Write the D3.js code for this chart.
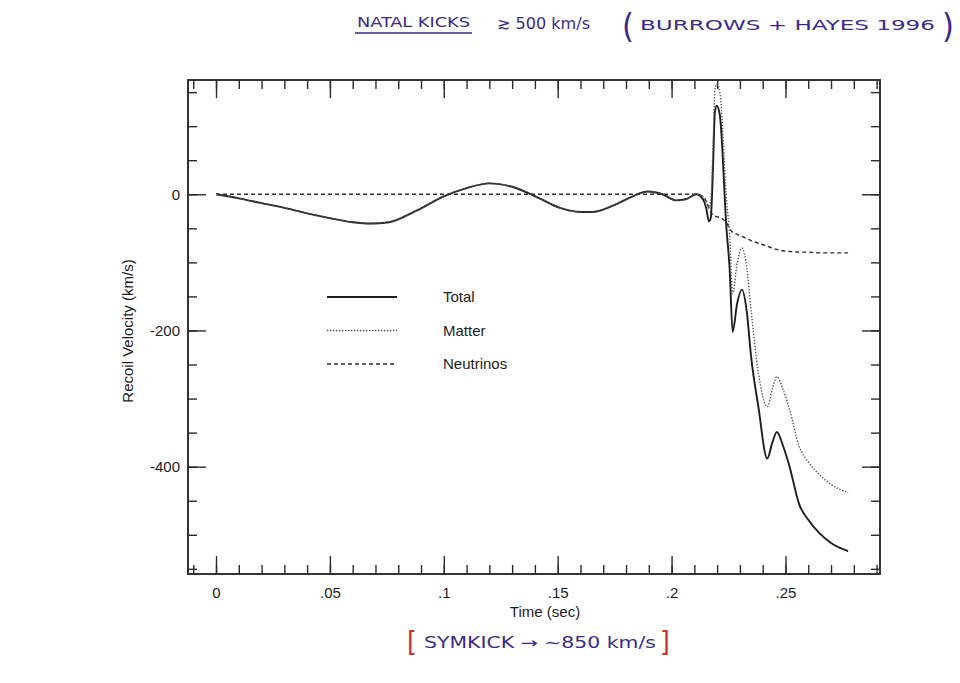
<!DOCTYPE html>
<html>
<head>
<meta charset="utf-8">
<script src="https://cdn.jsdelivr.net/npm/d3@7"></script>
<style>
  body { margin: 0; background: #fff; }
  svg { display: block; }
</style>
</head>
<body>
<script>
// time samples (sec)
const times = [0, 0.01, 0.02, 0.03, 0.04, 0.05, 0.06, 0.068, 0.076, 0.088,
  0.1, 0.11, 0.12, 0.13, 0.142, 0.151, 0.16, 0.165, 0.174, 0.183,
  0.1895, 0.196, 0.202, 0.2065, 0.2108, 0.2137, 0.2152, 0.2164, 0.2172, 0.2182,
  0.219, 0.2198, 0.2212, 0.2241, 0.2255, 0.2268, 0.2288, 0.2309, 0.233, 0.2349,
  0.2381, 0.242, 0.2442, 0.2462, 0.249, 0.2518, 0.256, 0.26, 0.265, 0.27, 0.2775];

// recoil velocity (km/s)
const total = [0, -6, -13, -20, -28, -35, -41, -43, -41, -24,
  -3, 9, 16, 11, -6, -20, -26, -26, -17, -3,
  4, 0, -9, -7, 0, -7, -20, -40, -35, 40,
  120, 130, 116, -50, -110, -202, -160, -140, -172, -238,
  -312, -388, -365, -349, -370, -400, -455, -478, -498, -512, -524];

const matter = [0, -6, -13, -20, -28, -35, -41, -43, -41, -24,
  -3, 9, 16, 11, -6, -20, -26, -26, -17, -3,
  4, 0, -9, -7, 0, -4, -10, -20, -9, 70,
  152, 162, 150, -8, -60, -146, -101, -79, -107, -170,
  -262, -312, -286, -268, -287, -316, -370, -393, -412, -426, -438];

const neutrinos = [0, 0, 0, 0, 0, 0, 0, 0, 0, 0,
  0, 0, 0, 0, 0, 0, 0, 0, 0, 0,
  0, 0, 0, 0, 0, -3, -10, -20, -26, -30,
  -32, -33, -34, -42, -50, -56, -59, -62, -65, -68,
  -72, -76, -79, -81, -83, -84, -85, -85, -86, -86, -86];

const seriesNames = ['Total', 'Matter', 'Neutrinos'];

// axis ticks
const xMajorTicks = [0, 0.05, 0.1, 0.15, 0.2, 0.25];
const xTickLabels = ['0', '.05', '.1', '.15', '.2', '.25'];
const yMajorTicks = [0, -200, -400];
const yTickLabels = ['0', '-200', '-400'];

// canvas and plot frame
const width = 960, height = 683;
const frame = {left: 188, right: 880, top: 80, bottom: 574};

const svg = d3.select('body')
  .append('svg')
  .attr('width', width)
  .attr('height', height)
  .style('background', '#fff');

// scales
const xScale = d3.scaleLinear()
  .domain([-0.0123, 0.2915])
  .range([frame.left, frame.right]);

const yScale = d3.scaleLinear()
  .domain([-557.6, 167.8])
  .range([frame.bottom, frame.top]);

// minor tick positions every .01 s and every 50 km/s
const xMinorTicks = d3.range(-1, 30).map(i => i / 100).filter(v => v <= 0.2915);
const yMinorTicks = d3.range(-11, 4).map(i => i * 50);

const axisFont = 'Liberation Sans, Arial, Helvetica, sans-serif';
const inkColor = '#2a2a2a';

// ticks on all four sides, pointing in
function drawAxis(axis, transform) {
  const g = svg.append('g')
    .attr('transform', transform)
    .call(axis);
  g.select('.domain').remove();
  g.selectAll('.tick line').attr('stroke', inkColor).attr('stroke-width', 1.4);
  g.selectAll('text')
    .style('font-family', axisFont)
    .style('font-size', '15px')
    .attr('fill', '#1c1c1c');
  return g;
}

drawAxis(d3.axisBottom(xScale).tickValues(xMinorTicks).tickSize(-9).tickFormat(''),
  `translate(0,${frame.bottom})`);
drawAxis(d3.axisBottom(xScale).tickValues(xMajorTicks).tickSize(-18).tickPadding(13)
  .tickFormat((d, i) => xTickLabels[i]), `translate(0,${frame.bottom})`);
drawAxis(d3.axisTop(xScale).tickValues(xMinorTicks).tickSize(-9).tickFormat(''),
  `translate(0,${frame.top})`);
drawAxis(d3.axisTop(xScale).tickValues(xMajorTicks).tickSize(-18).tickFormat(''),
  `translate(0,${frame.top})`);

drawAxis(d3.axisLeft(yScale).tickValues(yMinorTicks).tickSize(-9).tickFormat(''),
  `translate(${frame.left},0)`);
drawAxis(d3.axisLeft(yScale).tickValues(yMajorTicks).tickSize(-18).tickPadding(8)
  .tickFormat((d, i) => yTickLabels[i]), `translate(${frame.left},0)`);
drawAxis(d3.axisRight(yScale).tickValues(yMinorTicks).tickSize(-9).tickFormat(''),
  `translate(${frame.right},0)`);
drawAxis(d3.axisRight(yScale).tickValues(yMajorTicks).tickSize(-18).tickFormat(''),
  `translate(${frame.right},0)`);

// frame box
svg.append('rect')
  .attr('x', frame.left)
  .attr('y', frame.top)
  .attr('width', frame.right - frame.left)
  .attr('height', frame.bottom - frame.top)
  .attr('fill', 'none')
  .attr('stroke', inkColor)
  .attr('stroke-width', 1.9);

// curves
const styles = {
  Total: {values: total, stroke: '#1e1e1e', width: 1.9, dash: null},
  Matter: {values: matter, stroke: '#555', width: 1.4, dash: '1.4,1.6'},
  Neutrinos: {values: neutrinos, stroke: '#2e2e2e', width: 1.4, dash: '4,3'}
};

const line = d3.line()
  .x(d => xScale(d[0]))
  .y(d => yScale(d[1]))
  .curve(d3.curveMonotoneX);

['Neutrinos', 'Total', 'Matter'].forEach(name => {
  const s = styles[name];
  svg.append('path')
    .datum(times.map((t, i) => [t, s.values[i]]))
    .attr('d', line)
    .attr('fill', 'none')
    .attr('stroke', s.stroke)
    .attr('stroke-width', s.width)
    .attr('stroke-dasharray', s.dash)
    .attr('stroke-linejoin', 'round');
});

// legend
const legend = svg.append('g').attr('transform', 'translate(327,297)');
seriesNames.forEach((name, i) => {
  const s = styles[name];
  legend.append('line')
    .attr('x1', 0).attr('x2', 70)
    .attr('y1', i * 33.5).attr('y2', i * 33.5)
    .attr('stroke', s.stroke)
    .attr('stroke-width', s.width)
    .attr('stroke-dasharray', s.dash);
  legend.append('text')
    .attr('x', 116)
    .attr('y', i * 33.5)
    .attr('dy', '0.35em')
    .style('font-family', axisFont)
    .style('font-size', '15px')
    .attr('fill', '#1c1c1c')
    .text(name);
});

// axis titles
svg.append('text')
  .attr('x', 545)
  .attr('y', 617)
  .attr('text-anchor', 'middle')
  .style('font-family', axisFont)
  .style('font-size', '15px')
  .attr('fill', '#1c1c1c')
  .text('Time (sec)');

svg.append('text')
  .attr('transform', 'translate(133,331) rotate(-90)')
  .attr('text-anchor', 'middle')
  .style('font-family', axisFont)
  .style('font-size', '15px')
  .attr('fill', '#1c1c1c')
  .text('Recoil Velocity (km/s)');

// handwritten notes
const pen = '#3b2a8c';
const red = '#c8302c';
const handFont = 'DejaVu Sans Condensed, DejaVu Sans, sans-serif';

function note(txt, x, y, size, color, len) {
  const t = svg.append('text')
    .attr('x', x)
    .attr('y', y)
    .style('font-family', handFont)
    .style('font-size', size + 'px')
    .attr('fill', color)
    .text(txt);
  if (len) t.attr('textLength', len).attr('lengthAdjust', 'spacingAndGlyphs');
  return t;
}

note('NATAL KICKS', 357, 27, 14, pen, 113);
svg.append('line')
  .attr('x1', 355).attr('x2', 472)
  .attr('y1', 33).attr('y2', 33)
  .attr('stroke', pen).attr('stroke-width', 1.6);
note('\u2273 500 km/s', 497, 29, 16, pen, 93);
note('(', 622, 38, 34, pen);
note('BURROWS + HAYES 1996', 640, 30, 14, pen, 295);
note(')', 942, 38, 34, pen);

note('[', 407, 652, 28, red);
note('SYMKICK \u2192 ~850 km/s', 424, 648, 15, pen, 232);
note(']', 660, 652, 28, red);
</script>
</body>
</html>
